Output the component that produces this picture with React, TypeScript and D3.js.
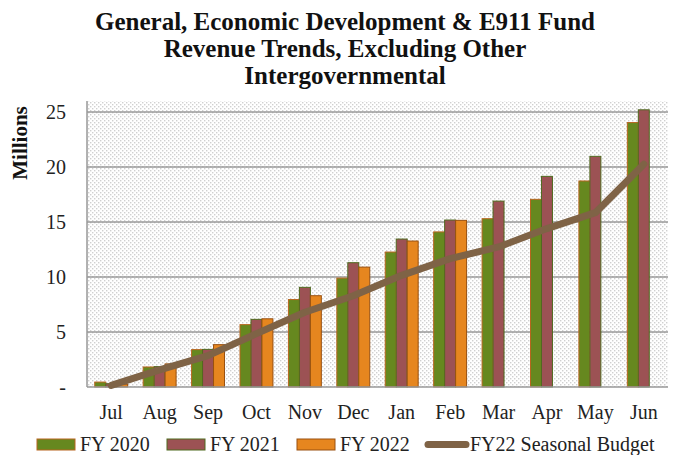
import React from 'react';
import * as d3 from 'd3';

// values in millions
const months = ['Jul', 'Aug', 'Sep', 'Oct', 'Nov', 'Dec', 'Jan', 'Feb', 'Mar', 'Apr', 'May', 'Jun'];
const fy2020 = [0.45, 1.82, 3.4, 5.67, 7.95, 9.9, 12.27, 14.1, 15.3, 17.06, 18.73, 24.04];
const fy2021 = [0.3, 1.85, 3.42, 6.15, 9.06, 11.3, 13.45, 15.18, 16.9, 19.15, 20.97, 25.2];
const fy2022 = [0.25, 2.1, 3.85, 6.2, 8.3, 10.9, 13.27, 15.15, null, null, null, null];
const budget = [0.15, 1.55, 2.85, 4.85, 6.8, 8.3, 10.15, 11.67, 12.73, 14.4, 15.85, 20.25];
const yTicks = [0, 5, 10, 15, 20, 25];
const titleLines = [
  'General, Economic Development & E911 Fund',
  'Revenue Trends, Excluding Other',
  'Intergovernmental',
];

const W = 678;
const H = 455;
const plot = { left: 87, right: 668, top: 101, bottom: 387 };
const serif = "'Liberation Serif', 'DejaVu Serif', serif";

const seriesList = [
  { name: 'FY 2020', values: fy2020, fill: '#66881f', stroke: '#b8651e' },
  { name: 'FY 2021', values: fy2021, fill: '#9c5254', stroke: '#4f6a1f' },
  { name: 'FY 2022', values: fy2022, fill: '#e6861f', stroke: '#995010' },
];

const App = () => {
  const x = d3.scaleBand<string>().domain(months).range([plot.left, plot.right]).paddingInner(0.32).paddingOuter(0.16);
  const sub = d3.scaleBand<number>().domain([0, 1, 2]).range([0, x.bandwidth()]);
  const y = d3.scaleLinear().domain([0, 26]).range([plot.bottom, plot.top]);

  const line = d3.line<number>()
    .x((_, i) => (x(months[i]) as number) + x.bandwidth() / 2)
    .y(d => y(d));

  const legendItems = [
    { x: 37, textX: 80, ...seriesList[0] },
    { x: 167, textX: 210, ...seriesList[1] },
    { x: 297, textX: 340, ...seriesList[2] },
  ];

  return (
    <svg width={W} height={H} style={{ position: 'absolute', left: 0, top: 0, background: '#fff' }}>
      <defs>
        <pattern id="dots" width="4" height="4" patternUnits="userSpaceOnUse">
          <rect width="4" height="4" fill="#ffffff" />
          <rect x="0" y="0" width="1.4" height="1.4" fill="#d0d0d0" />
          <rect x="2" y="2" width="1.4" height="1.4" fill="#d0d0d0" />
        </pattern>
      </defs>

      {titleLines.map((t, i) => (
        <text key={t} x={345} y={30 + i * 27} textAnchor="middle" fontFamily={serif}
          fontWeight="bold" fontSize={25} fill="#111">{t}</text>
      ))}

      <rect x={plot.left} y={plot.top} width={plot.right - plot.left} height={plot.bottom - plot.top} fill="url(#dots)" />

      {yTicks.filter(t => t > 0).map(t => (
        <line key={t} x1={plot.left} x2={plot.right} y1={y(t)} y2={y(t)} stroke="#999" strokeWidth={1.5} />
      ))}

      {seriesList.map((s, si) => (
        <g key={s.name}>
          {s.values.map((v, i) => v == null ? null : (
            <rect key={i}
              x={(x(months[i]) as number) + (sub(si) as number)}
              y={y(v)}
              width={sub.bandwidth()}
              height={y(0) - y(v)}
              fill={s.fill} stroke={s.stroke} strokeWidth={1} />
          ))}
        </g>
      ))}

      <line x1={plot.left} x2={plot.left} y1={plot.top} y2={plot.bottom} stroke="#999" strokeWidth={1.5} />
      <line x1={plot.left} x2={plot.right} y1={plot.bottom} y2={plot.bottom} stroke="#999" strokeWidth={1.5} />

      <path d={line(budget) ?? ''} fill="none" stroke="#7f6346" strokeWidth={7}
        strokeLinecap="round" strokeLinejoin="round" />

      {yTicks.map(t => (
        <text key={t} x={66} y={y(t) + 7} textAnchor="end" fontFamily={serif} fontSize={20} fill="#222">
          {t === 0 ? '-' : t}
        </text>
      ))}
      <text transform="translate(27,143) rotate(-90)" textAnchor="middle" fontFamily={serif}
        fontWeight="bold" fontSize={21} fill="#111">Millions</text>

      {months.map(m => (
        <text key={m} x={(x(m) as number) + x.bandwidth() / 2} y={419} textAnchor="middle"
          fontFamily={serif} fontSize={20} fill="#222">{m}</text>
      ))}

      {legendItems.map(it => (
        <g key={it.name}>
          <rect x={it.x} y={439} width={38} height={11} fill={it.fill} stroke={it.stroke} strokeWidth={1} />
          <text x={it.textX} y={451} fontFamily={serif} fontSize={20} fill="#222">{it.name}</text>
        </g>
      ))}
      <line x1={428} x2={466} y1={444.5} y2={444.5} stroke="#7f6346" strokeWidth={7} strokeLinecap="round" />
      <text x={470} y={451} fontFamily={serif} fontSize={20} fill="#222">FY22 Seasonal Budget</text>
    </svg>
  );
};

export default App;
